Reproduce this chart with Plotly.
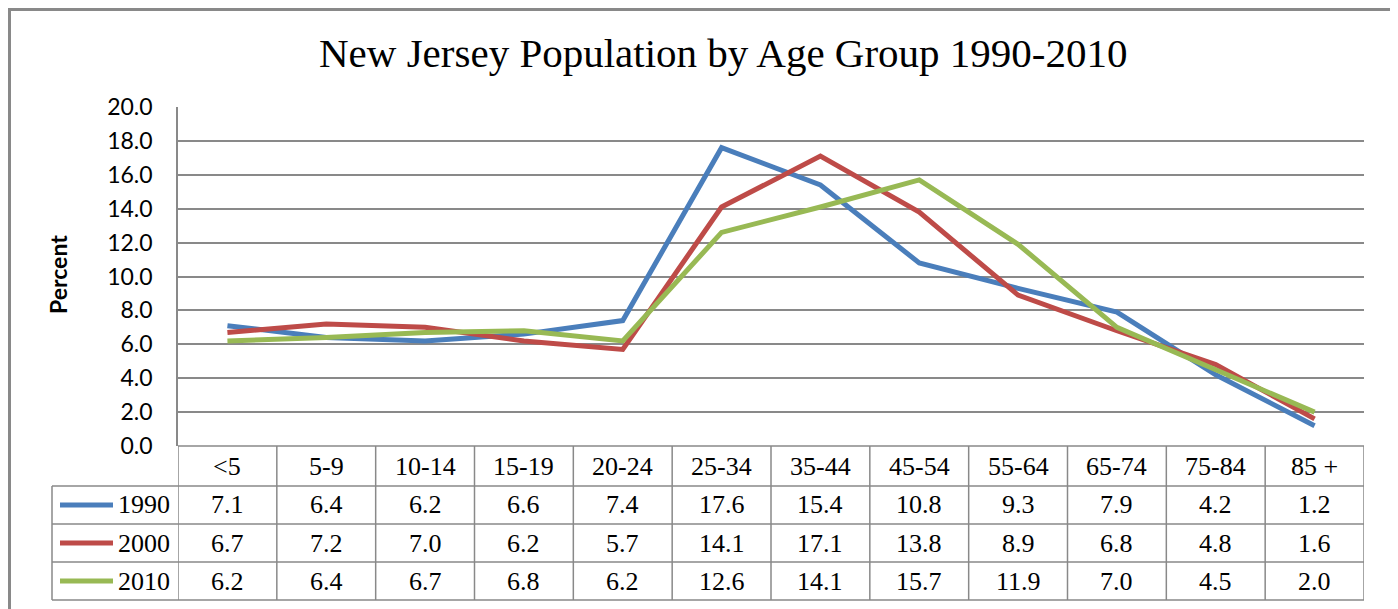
import plotly.graph_objects as go

categories = ["<5", "5-9", "10-14", "15-19", "20-24", "25-34", "35-44", "45-54", "55-64", "65-74", "75-84", "85 +"]
series_names = ["1990", "2000", "2010"]
values_1990 = [7.1, 6.4, 6.2, 6.6, 7.4, 17.6, 15.4, 10.8, 9.3, 7.9, 4.2, 1.2]
values_2000 = [6.7, 7.2, 7.0, 6.2, 5.7, 14.1, 17.1, 13.8, 8.9, 6.8, 4.8, 1.6]
values_2010 = [6.2, 6.4, 6.7, 6.8, 6.2, 12.6, 14.1, 15.7, 11.9, 7.0, 4.5, 2.0]
y_ticks = [0, 2, 4, 6, 8, 10, 12, 14, 16, 18, 20]
title_text = "New Jersey Population by Age Group 1990-2010"
y_title = "Percent"

series_values = [values_1990, values_2000, values_2010]
colors = ["#4A7EBB", "#BE4B48", "#98B954"]

OFF = 8  # page body margin
W, H = 1398 - OFF, 609 - OFF
L, R, T, B = 178 - OFF, 34, 107 - OFF, 163
plot_h = H - T - B
plot_w = W - L - R
grid_color = "#898989"
serif = "Liberation Serif, Times New Roman, serif"
sans = "Lato, Liberation Sans, sans-serif"

def py(pix):
    return (H - B - (pix - OFF)) / plot_h

def px(pix):
    return ((pix - OFF) - L) / plot_w

xs = list(range(len(categories)))
fig = go.Figure()
for name, vals, col in zip(series_names, series_values, colors):
    fig.add_trace(go.Scatter(x=xs, y=vals, mode="lines", name=name,
                             line=dict(color=col, width=5), showlegend=False))

shapes = []
annotations = []
n = len(categories)
row_edges = [446, 486, 524, 562, 600]
header_center = (row_edges[0] + row_edges[1]) / 2
row_centers = [(row_edges[i + 1] + row_edges[i + 2]) / 2 for i in range(3)]

for i in range(n + 1):
    shapes.append(dict(type="line", xref="x", yref="paper", x0=i - 0.5, x1=i - 0.5,
                       y0=py(row_edges[0]), y1=py(row_edges[-1]),
                       line=dict(color=grid_color, width=1.5)))
shapes.append(dict(type="line", xref="paper", yref="paper", x0=0, x1=1,
                   y0=py(row_edges[0]), y1=py(row_edges[0]), line=dict(color=grid_color, width=1.5)))
for e in row_edges[1:]:
    shapes.append(dict(type="line", xref="paper", yref="paper", x0=px(52), x1=1,
                       y0=py(e), y1=py(e), line=dict(color=grid_color, width=1.5)))
shapes.append(dict(type="line", xref="paper", yref="paper", x0=px(52), x1=px(52),
                   y0=py(row_edges[1]), y1=py(row_edges[-1]), line=dict(color=grid_color, width=1.5)))
shapes.append(dict(type="rect", xref="paper", yref="paper", x0=px(9.5), x1=px(1392),
                   y0=py(620), y1=py(9.5), line=dict(color=grid_color, width=3)))

for i, c in enumerate(categories):
    annotations.append(dict(x=i, y=py(header_center), xref="x", yref="paper", text=c,
                            showarrow=False, font=dict(family=serif, size=26, color="black"),
                            xanchor="center", yanchor="middle"))
for r, (name, vals, col) in enumerate(zip(series_names, series_values, colors)):
    yc = py(row_centers[r])
    for i, v in enumerate(vals):
        annotations.append(dict(x=i, y=yc, xref="x", yref="paper", text=f"{v:.1f}",
                                showarrow=False, font=dict(family=serif, size=26, color="black"),
                                xanchor="center", yanchor="middle"))
    shapes.append(dict(type="line", xref="paper", yref="paper", x0=px(60), x1=px(113),
                       y0=yc, y1=yc, line=dict(color=col, width=5)))
    annotations.append(dict(x=px(172), y=yc, xref="paper", yref="paper", text=name,
                            showarrow=False, font=dict(family=serif, size=26, color="black"),
                            xanchor="right", yanchor="middle"))

annotations.append(dict(x=px(58), y=py(275), xref="paper", yref="paper", text=y_title,
                        showarrow=False, textangle=-90,
                        font=dict(family=sans, size=23, color="black", weight="bold"),
                        xanchor="center", yanchor="middle"))
annotations.append(dict(x=px(723), y=py(53), xref="paper", yref="paper", text=title_text,
                        showarrow=False, font=dict(family=serif, size=41, color="black"),
                        xanchor="center", yanchor="middle"))

fig.update_layout(
    width=W, height=H,
    margin=dict(l=L, r=R, t=T, b=B, pad=0),
    paper_bgcolor="white", plot_bgcolor="white",
    shapes=shapes, annotations=annotations,
    xaxis=dict(range=[-0.5, n - 0.5], showticklabels=False, showgrid=False, zeroline=False,
               showline=False, ticks=""),
    yaxis=dict(range=[0, 20], tickvals=y_ticks, ticktext=[f"{v:.1f}" for v in y_ticks],
               showgrid=True, gridcolor=grid_color, gridwidth=1.5, zeroline=False,
               showline=True, linecolor=grid_color, linewidth=1.5, ticks="",
               ticklabelstandoff=19,
               tickfont=dict(family=sans, size=23, color="black")),
)
fig.write_html("out.html")
